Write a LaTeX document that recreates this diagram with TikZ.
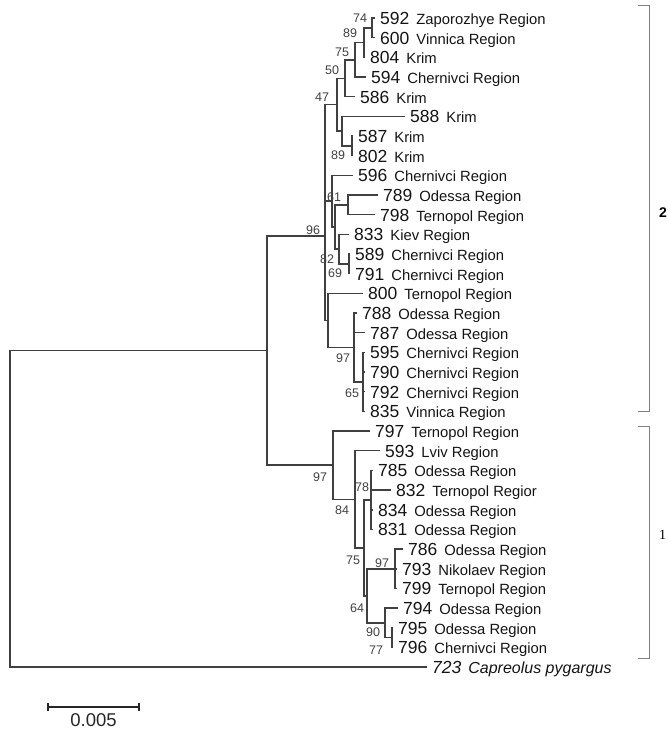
\documentclass[tikz,border=0pt]{standalone}
\usepackage{fontspec}
\setmainfont{Liberation Sans}
\newfontfamily\serifone{Liberation Serif}
\newcommand\lfx[2]{#1\hspace{7pt}{\fontsize{14.8}{15}\selectfont #2}}
\begin{document}
\begin{tikzpicture}[x=1pt,y=-1pt,
  br/.style={draw=black!75, line width=1.5pt, line cap=rect},
  leaf/.style={anchor=west, inner xsep=6pt, inner ysep=0pt, text height=12.6pt, text depth=0pt, font=\fontsize{17.5}{18}\selectfont, text=black!92},
  bs/.style={font=\fontsize{12.5}{13}\selectfont, text=black!75, inner sep=0pt},
  clade/.style={draw=black!50, line width=0.8pt},
  sbar/.style={draw=black!85, line width=1.5pt}]
\useasboundingbox (0,0) rectangle (668,731);

% ---- leaves ----
\node[leaf] (L592) at (374,18.0) {\lfx{592}{Zaporozhye Region}};
\node[leaf] (L600) at (374,37.7) {\lfx{600}{Vinnica Region}};
\node[leaf] (L804) at (364,57.3) {\lfx{804}{Krim}};
\node[leaf] (L594) at (365,77.0) {\lfx{594}{Chernivci Region}};
\node[leaf] (L586) at (354,96.7) {\lfx{586}{Krim}};
\node[leaf] (L588) at (404,116.4) {\lfx{588}{Krim}};
\node[leaf] (L587) at (352,136.0) {\lfx{587}{Krim}};
\node[leaf] (L802) at (352,155.7) {\lfx{802}{Krim}};
\node[leaf] (L596) at (352,175.4) {\lfx{596}{Chernivci Region}};
\node[leaf] (L789) at (377,195.0) {\lfx{789}{Odessa Region}};
\node[leaf] (L798) at (374,214.7) {\lfx{798}{Ternopol Region}};
\node[leaf] (L833) at (348,234.4) {\lfx{833}{Kiev Region}};
\node[leaf] (L589) at (349,254.0) {\lfx{589}{Chernivci Region}};
\node[leaf] (L791) at (349,273.7) {\lfx{791}{Chernivci Region}};
\node[leaf] (L800) at (362,293.4) {\lfx{800}{Ternopol Region}};
\node[leaf] (L788) at (356,313.1) {\lfx{788}{Odessa Region}};
\node[leaf] (L787) at (364,332.7) {\lfx{787}{Odessa Region}};
\node[leaf] (L595) at (364,352.4) {\lfx{595}{Chernivci Region}};
\node[leaf] (L790) at (364,372.1) {\lfx{790}{Chernivci Region}};
\node[leaf] (L792) at (364,391.7) {\lfx{792}{Chernivci Region}};
\node[leaf] (L835) at (364,411.4) {\lfx{835}{Vinnica Region}};
\node[leaf] (L797) at (369,431.1) {\lfx{797}{Ternopol Region}};
\node[leaf] (L593) at (379,450.7) {\lfx{593}{Lviv Region}};
\node[leaf] (L785) at (372,470.4) {\lfx{785}{Odessa Region}};
\node[leaf] (L832) at (390,490.1) {\lfx{832}{Ternopol Regior}};
\node[leaf] (L834) at (372,509.8) {\lfx{834}{Odessa Region}};
\node[leaf] (L831) at (372,529.4) {\lfx{831}{Odessa Region}};
\node[leaf] (L786) at (402,549.1) {\lfx{786}{Odessa Region}};
\node[leaf] (L793) at (396,568.8) {\lfx{793}{Nikolaev Region}};
\node[leaf] (L799) at (396,588.4) {\lfx{799}{Ternopol Region}};
\node[leaf] (L794) at (397,608.1) {\lfx{794}{Odessa Region}};
\node[leaf] (L795) at (392,627.8) {\lfx{795}{Odessa Region}};
\node[leaf] (L796) at (392,647.4) {\lfx{796}{Chernivci Region}};
\node[leaf, font=\fontsize{17.5}{18}\selectfont\itshape] (L723) at (426,667.1) {723\hspace{7pt}{\fontsize{16}{17}\selectfont Capreolus pygargus}};

% ---- internal nodes ----
\coordinate (n74) at (372,27.85);
\coordinate (n89a) at (364,42.6);
\coordinate (n75) at (355,59.8);
\coordinate (n50) at (345,78.25);
\coordinate (n89b) at (352,145.85);
\coordinate (n588) at (342,131.1);
\coordinate (n47) at (337,104.7);
\coordinate (n7898) at (348,204.85);
\coordinate (n69) at (349,263.85);
\coordinate (n82) at (339,249.1);
\coordinate (nS) at (335,227);
\coordinate (nQ) at (332,201.2);
\coordinate (n65) at (363,381.9);
\coordinate (n97) at (354,347.5);
\coordinate (nP) at (328,320.45);
\coordinate (C2) at (325,236);
\coordinate (n78) at (371,499.9);
\coordinate (n97b) at (395,568.75);
\coordinate (n77) at (392,637.6);
\coordinate (n90) at (385,622.85);
\coordinate (n64) at (367,595.8);
\coordinate (n75b) at (364,547.85);
\coordinate (n84) at (355,499.3);
\coordinate (C1) at (333,465.2);
\coordinate (A) at (267,350.6);
\coordinate (root) at (10,350.6);

% ---- branches ----
\draw[br] (root) |- (A);
\draw[br] (root) |- (L723.west);
\draw[br] (A) |- (C2);
\draw[br] (A) |- (C1);
\draw[br] (C2) |- (n47);
\draw[br] (C2) |- (nQ);
\draw[br] (C2) |- (nP);
\draw[br] (n47) |- (n50);
\draw[br] (n47) |- (n588);
\draw[br] (n50) |- (n75);
\draw[br] (n50) |- (L586.west);
\draw[br] (n75) |- (n89a);
\draw[br] (n75) |- (L594.west);
\draw[br] (n89a) |- (n74);
\draw[br] (n89a) |- (L804.west);
\draw[br] (n74) |- (L592.west);
\draw[br] (n74) |- (L600.west);
\draw[br] (n588) |- (L588.west);
\draw[br] (n588) |- (n89b);
\draw[br] (n89b) |- (L587.west);
\draw[br] (n89b) |- (L802.west);
\draw[br] (nQ) |- (L596.west);
\draw[br] (nQ) |- (nS);
\draw[br] (nS) |- (n7898);
\draw[br] (nS) |- (n82);
\draw[br] (n7898) |- (L789.west);
\draw[br] (n7898) |- (L798.west);
\draw[br] (n82) |- (L833.west);
\draw[br] (n82) |- (n69);
\draw[br] (n69) |- (L589.west);
\draw[br] (n69) |- (L791.west);
\draw[br] (nP) |- (L800.west);
\draw[br] (nP) |- (n97);
\draw[br] (n97) |- (L788.west);
\draw[br] (n97) |- (L787.west);
\draw[br] (n97) |- (n65);
\draw[br] (n65) |- (L595.west);
\draw[br] (n65) |- (L790.west);
\draw[br] (n65) |- (L792.west);
\draw[br] (n65) |- (L835.west);
\draw[br] (C1) |- (L797.west);
\draw[br] (C1) |- (n84);
\draw[br] (n84) |- (L593.west);
\draw[br] (n84) |- (n75b);
\draw[br] (n75b) |- (n78);
\draw[br] (n75b) |- (n64);
\draw[br] (n78) |- (L785.west);
\draw[br] (n78) |- (L832.west);
\draw[br] (n78) |- (L834.west);
\draw[br] (n78) |- (L831.west);
\draw[br] (n64) |- (n97b);
\draw[br] (n64) |- (n90);
\draw[br] (n97b) |- (L786.west);
\draw[br] (n97b) |- (L793.west);
\draw[br] (n97b) |- (L799.west);
\draw[br] (n90) |- (L794.west);
\draw[br] (n90) |- (n77);
\draw[br] (n77) |- (L795.west);
\draw[br] (n77) |- (L796.west);

% ---- bootstrap values ----
\node[bs] (b74) at (360,18) {74};
\node[bs] (b89a) at (350,33) {89};
\node[bs] (b75) at (342,52) {75};
\node[bs] (b50) at (332,70) {50};
\node[bs] (b47) at (322,97) {47};
\node[bs] (b89b) at (338,155) {89};
\node[bs] (b61) at (334,197) {61};
\node[bs] (b96) at (313,230) {96};
\node[bs] (b82) at (327,259) {82};
\node[bs] (b69) at (335,273) {69};
\node[bs] (b97a) at (343,358) {97};
\node[bs] (b65) at (352,393) {65};
\node[bs] (b97b) at (320,477) {97};
\node[bs] (b84) at (342,510) {84};
\node[bs] (b78) at (362,487) {78};
\node[bs] (b75b) at (353,560) {75};
\node[bs] (b97c) at (382,563) {97};
\node[bs] (b64) at (357,608) {64};
\node[bs] (b90) at (373,632) {90};
\node[bs] (b77) at (376,650) {77};

% ---- clade brackets ----
\coordinate (k2a) at (638,5);
\coordinate (k2b) at (638,411);
\coordinate (k1a) at (638,426);
\coordinate (k1b) at (638,658);
\draw[clade] (k2a) -- ++(11,0) |- (k2b);
\draw[clade] (k1a) -- ++(11,0) |- (k1b);
\node[anchor=west, inner sep=0pt, font=\fontsize{14}{15}\selectfont\bfseries] (g2) at (659,213) {2};
\node[anchor=west, inner sep=0pt, font=\serifone\fontsize{14}{15}\selectfont] (g1) at (659,535) {1};

% ---- scale bar ----
\coordinate (s1) at (48,707);
\coordinate (s2) at (139,707);
\draw[sbar] (s1) -- (s2);
\draw[sbar] ([yshift=-4pt]s1) -- ([yshift=4pt]s1);
\draw[sbar] ([yshift=-4pt]s2) -- ([yshift=4pt]s2);
\node[font=\fontsize{18.5}{19}\selectfont, text=black!85, inner sep=0pt] (sl) at (93.5,720) {0.005};
\end{tikzpicture}
\end{document}
